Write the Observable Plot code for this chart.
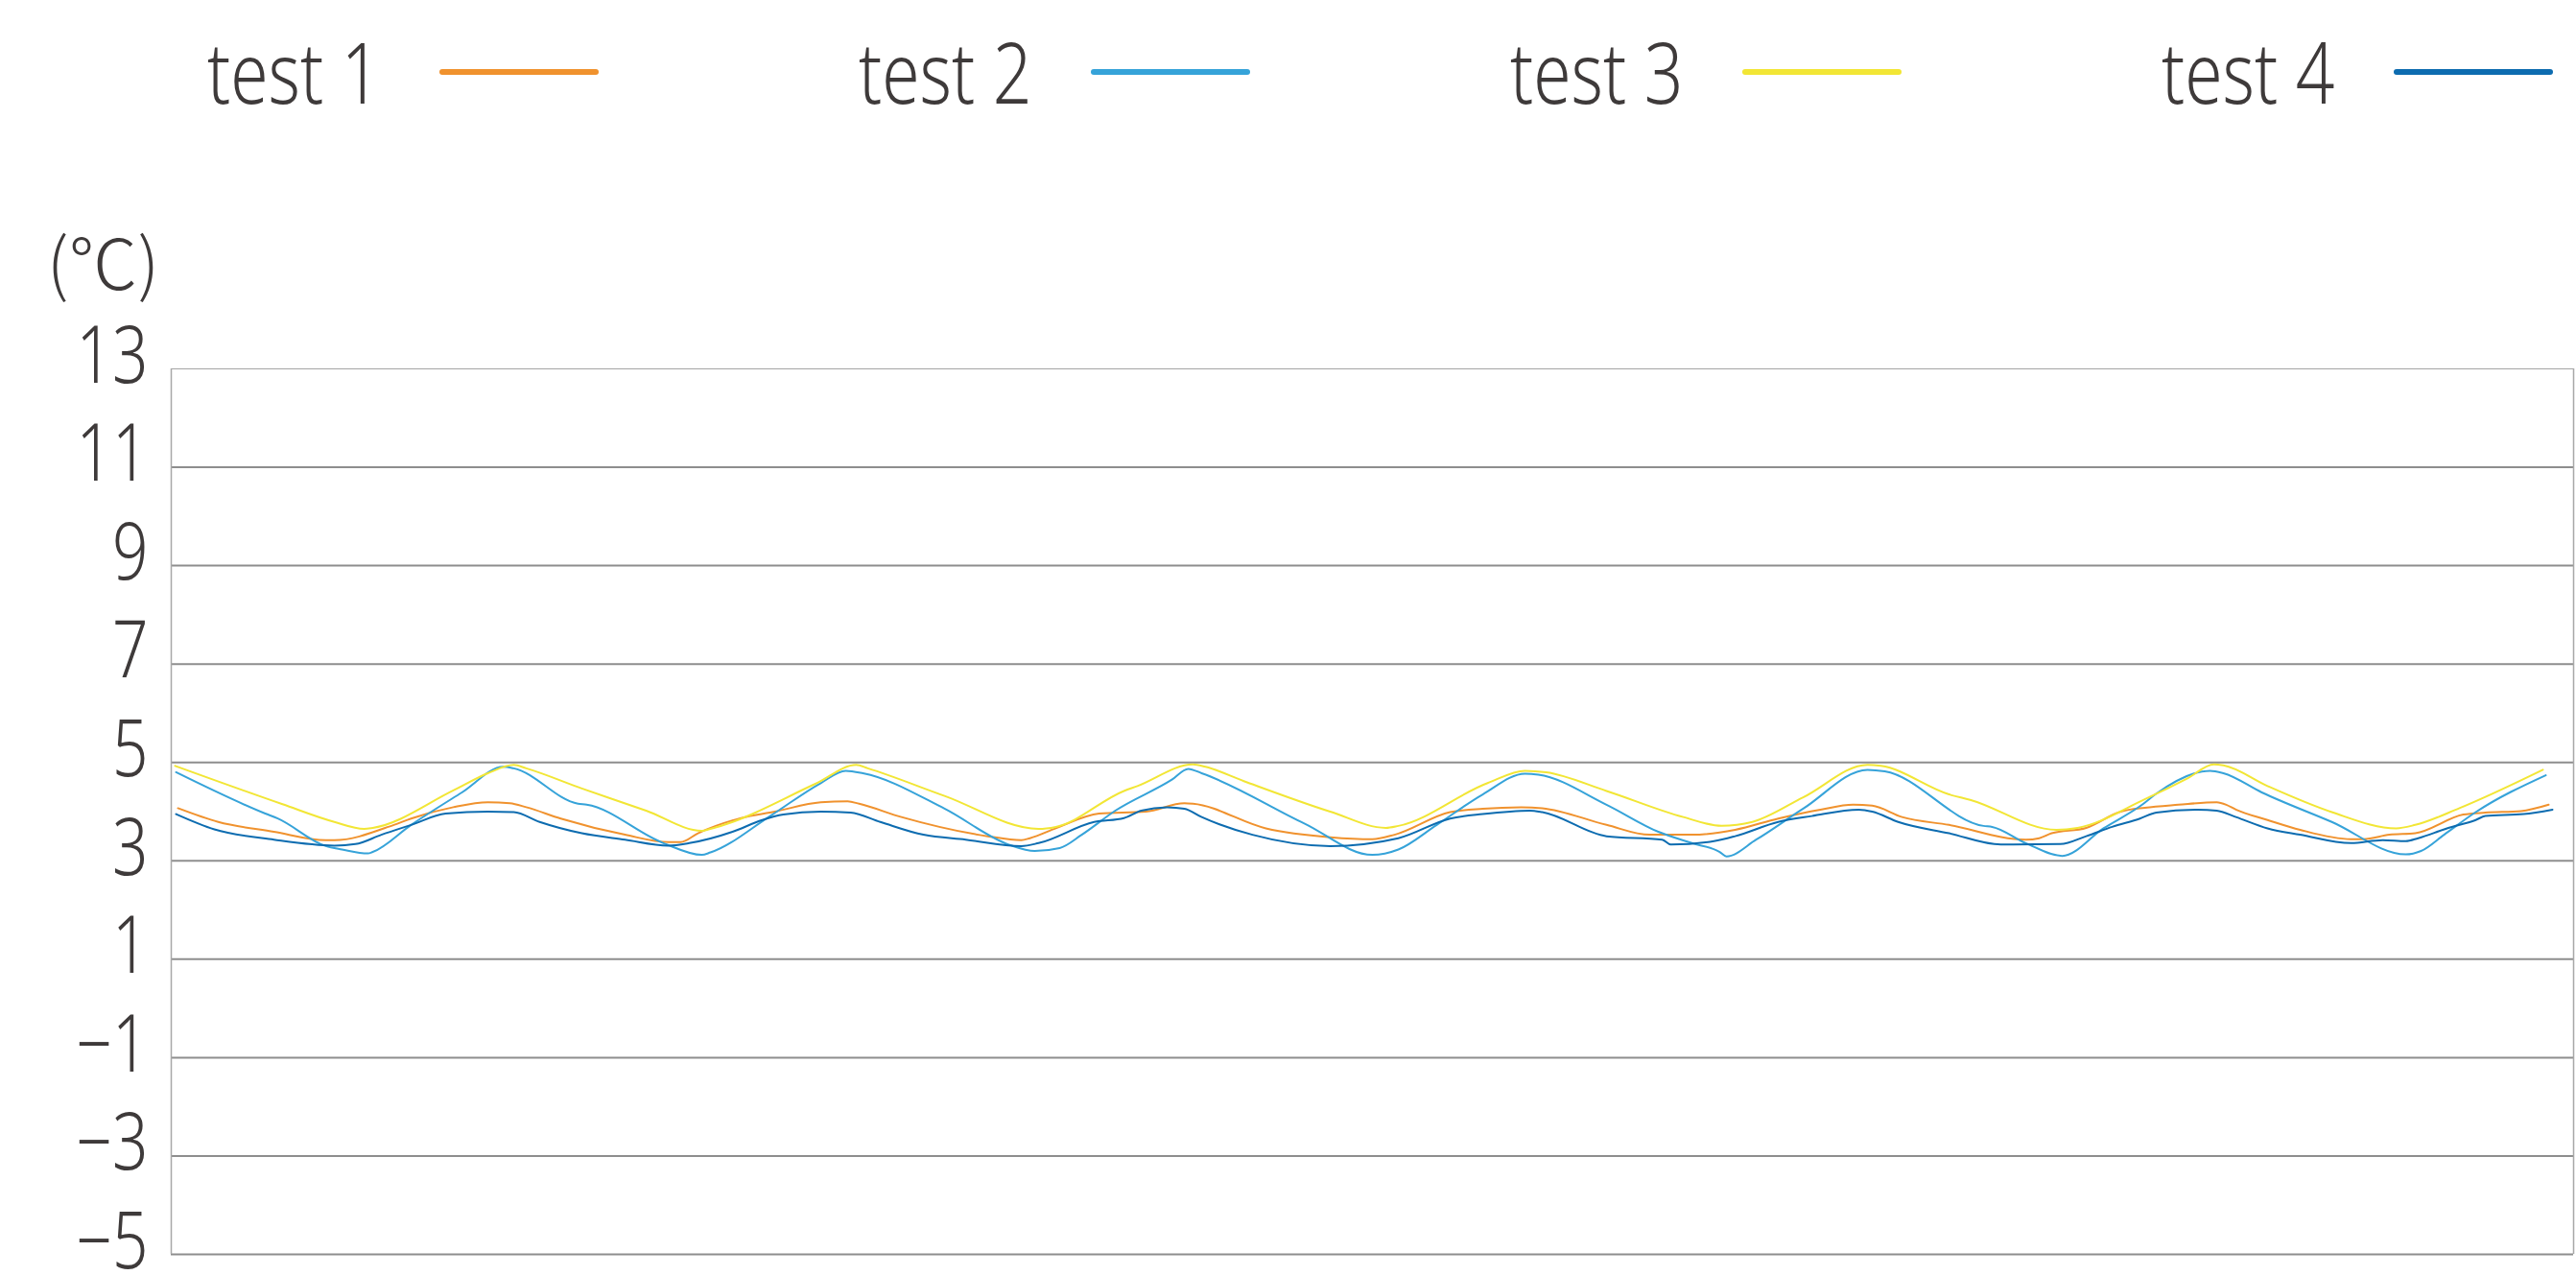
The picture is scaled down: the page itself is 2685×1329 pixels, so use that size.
<!DOCTYPE html>
<html>
<head>
<meta charset="utf-8">
<script src="https://cdn.jsdelivr.net/npm/d3@7"></script>
<script src="https://cdn.jsdelivr.net/npm/@observablehq/plot@0.6"></script>
<style>
  html, body { margin: 0; padding: 0; background: #ffffff; }
  body { width: 2685px; height: 1329px; overflow: hidden; color: #3e3a3a;
         font-family: "Noto Sans", "Noto Sans CJK JP", sans-serif; }
  #legend { position: relative; width: 2685px; height: 140px; }
  .item { position: absolute; top: 0; height: 140px; width: 679px; }
  .item .lab { position: absolute; left: 0; top: 30px; font-size: 88px; line-height: 1;
               font-weight: 300; white-space: nowrap; transform: scaleX(0.81); transform-origin: left center; }
  .item .sw { position: absolute; left: 242px; top: 72px; width: 166px; height: 6px; border-radius: 3px; }
  #chart svg { display: block; }
</style>
</head>
<body>
<div id="legend"></div>
<div id="chart"></div>
<script>
// ---- data (time in arbitrary sample units, temperature in ℃) ----
const seriesNames = ["test 1", "test 2", "test 3", "test 4"];
const seriesColors = ["#F0922E", "#36A3D9", "#F2E635", "#0D6CB0"];
const yTicks = [-5, -3, -1, 1, 3, 5, 7, 9, 11, 13];
const timeDomain = [0, 2504];

const test1 = [[7,4.07],[49,3.79],[107,3.59],[161,3.42],[170,3.42],[232,3.73],[250,3.86],[294,4.09],[330,4.19],[353,4.17],[370,4.09],[406,3.86],[473,3.53],[518,3.38],[531,3.38],[549,3.56],[594,3.87],[629,4.00],[677,4.19],[705,4.21],[717,4.16],[761,3.89],[851,3.50],[886,3.42],[895,3.46],[922,3.66],[967,3.96],[1016,4.00],[1056,4.17],[1065,4.16],[1141,3.66],[1208,3.48],[1252,3.44],[1275,3.53],[1333,3.99],[1367,4.06],[1407,4.09],[1429,4.07],[1496,3.73],[1541,3.53],[1585,3.53],[1630,3.63],[1675,3.86],[1719,4.04],[1753,4.14],[1773,4.12],[1804,3.89],[1853,3.73],[1933,3.43],[1947,3.46],[1960,3.56],[1996,3.67],[2032,4.00],[2057,4.08],[2092,4.14],[2132,4.19],[2142,4.14],[2152,4.04],[2185,3.83],[2219,3.63],[2272,3.44],[2285,3.44],[2312,3.53],[2339,3.56],[2389,3.94],[2412,3.98],[2449,4.01],[2478,4.14]];

const test2 = [[5,4.80],[98,3.96],[111,3.86],[161,3.30],[178,3.23],[205,3.15],[210,3.18],[250,3.73],[303,4.39],[346,4.91],[357,4.88],[424,4.16],[433,4.14],[513,3.36],[553,3.12],[562,3.17],[625,3.92],[677,4.58],[703,4.83],[721,4.78],[806,4.06],[873,3.33],[900,3.20],[926,3.26],[949,3.53],[984,4.02],[1043,4.65],[1060,4.87],[1074,4.78],[1181,3.76],[1252,3.12],[1279,3.23],[1319,3.73],[1367,4.35],[1411,4.77],[1425,4.75],[1496,4.14],[1550,3.59],[1585,3.36],[1614,3.18],[1621,3.09],[1652,3.43],[1701,4.06],[1768,4.85],[1786,4.82],[1889,3.71],[1898,3.69],[1933,3.36],[1971,3.10],[2014,3.66],[2055,4.15],[2068,4.35],[2125,4.83],[2139,4.78],[2179,4.39],[2252,3.79],[2329,3.13],[2345,3.20],[2369,3.53],[2402,3.99],[2475,4.74]];

const test3 = [[4,4.93],[116,4.15],[170,3.79],[201,3.65],[210,3.67],[294,4.43],[330,4.78],[357,4.95],[370,4.88],[428,4.47],[495,4.02],[553,3.61],[562,3.65],[672,4.57],[714,4.95],[726,4.88],[806,4.32],[904,3.65],[922,3.69],[993,4.42],[1007,4.52],[1065,4.96],[1078,4.91],[1118,4.62],[1208,4.00],[1266,3.67],[1279,3.71],[1372,4.58],[1411,4.83],[1433,4.80],[1496,4.42],[1576,3.89],[1616,3.71],[1648,3.79],[1701,4.29],[1768,4.95],[1782,4.93],[1853,4.35],[1875,4.24],[1965,3.63],[1987,3.67],[2057,4.25],[2102,4.68],[2129,4.96],[2139,4.94],[2185,4.52],[2252,3.99],[2319,3.66],[2339,3.73],[2385,4.07],[2472,4.85]];

const test4 = [[5,3.95],[45,3.64],[107,3.43],[170,3.31],[192,3.34],[219,3.53],[250,3.73],[286,3.96],[330,4.00],[357,3.99],[384,3.79],[428,3.56],[473,3.43],[518,3.31],[540,3.36],[585,3.59],[616,3.83],[638,3.94],[677,4.00],[708,3.98],[739,3.79],[784,3.53],[828,3.43],[886,3.30],[904,3.36],[962,3.79],[993,3.87],[1011,4.02],[1038,4.09],[1056,4.06],[1074,3.89],[1127,3.53],[1208,3.30],[1279,3.46],[1333,3.86],[1367,3.95],[1416,4.02],[1429,3.99],[1496,3.50],[1554,3.43],[1563,3.33],[1608,3.40],[1630,3.50],[1675,3.79],[1710,3.91],[1759,4.04],[1773,4.00],[1800,3.79],[1853,3.56],[1907,3.33],[1969,3.34],[1996,3.50],[2023,3.69],[2052,3.86],[2069,3.98],[2112,4.04],[2132,4.02],[2152,3.89],[2185,3.66],[2219,3.53],[2272,3.36],[2305,3.42],[2329,3.40],[2342,3.46],[2372,3.66],[2402,3.83],[2412,3.91],[2452,3.95],[2482,4.04]];

const seriesData = [test1, test2, test3, test4];
const rows = seriesData.flatMap((arr, i) => arr.map(([t, v]) => ({series: seriesNames[i], t, v})));

// ---- legend ----
const legend = document.getElementById("legend");
seriesNames.forEach((name, i) => {
  const item = document.createElement("div");
  item.className = "item";
  item.style.left = (216 + i * 679) + "px";
  const lab = document.createElement("span");
  lab.className = "lab";
  lab.textContent = name;
  const sw = document.createElement("span");
  sw.className = "sw";
  sw.style.background = seriesColors[i];
  item.appendChild(lab);
  item.appendChild(sw);
  legend.appendChild(item);
});

// ---- chart ----
const fontFamily = '"Noto Sans", "Noto Sans CJK JP", sans-serif';
const tickFmt = d => d < 0 ? "\u2212" + Math.abs(d) : String(d);
const chart = Plot.plot({
  width: 2685,
  height: 1189,
  marginTop: 244,
  marginBottom: 22,
  marginLeft: 178,
  marginRight: 3,
  style: {fontFamily, fontSize: "64px", color: "#3e3a3a", background: "#ffffff"},
  x: {domain: timeDomain, axis: null},
  y: {domain: [-5, 13], label: null, axis: null},
  color: {domain: seriesNames, range: seriesColors},
  marks: [
    Plot.ruleY(yTicks.filter(d => d !== 13), {stroke: "#8e8e8e", strokeWidth: 2}),
    Plot.ruleY([13], {stroke: "#a4a4a4", strokeWidth: 1.2}),
    Plot.ruleX(timeDomain, {stroke: "#a8a8a8", strokeWidth: 1.5}),
    Plot.axisY(yTicks, {tickSize: 0, tickPadding: 24, fontSize: 82, fontWeight: 300, dy: -12, label: null, tickFormat: tickFmt}),
    Plot.text(["(℃)"], {frameAnchor: "top-left", text: d => d, dx: -71, dy: -107, textAnchor: "middle", lineAnchor: "middle", fontSize: 72, fontWeight: 300, fontFamily: '"Noto Sans CJK JP", "Noto Sans", sans-serif', fill: "#3e3a3a"}),
    Plot.line(rows, {x: "t", y: "v", z: "series", stroke: "series", curve: "monotone-x", strokeWidth: 2})
  ]
});
document.getElementById("chart").appendChild(chart);

// narrow the tick-label glyphs horizontally (reference uses a condensed face)
const tickLabels = new Set(yTicks.map(tickFmt));
const tickTexts = Array.from(chart.querySelectorAll("text")).filter(t => tickLabels.has(t.textContent.trim()));
tickTexts.forEach(t => {
  const tr = t.getAttribute("transform");
  if (tr) t.setAttribute("transform", tr + " scale(0.8,1)");
  else {
    const x = +(t.getAttribute("x") || 0);
    t.setAttribute("transform", `translate(${x},0) scale(0.8,1) translate(${-x},0)`);
  }
});
</script>
</body>
</html>
